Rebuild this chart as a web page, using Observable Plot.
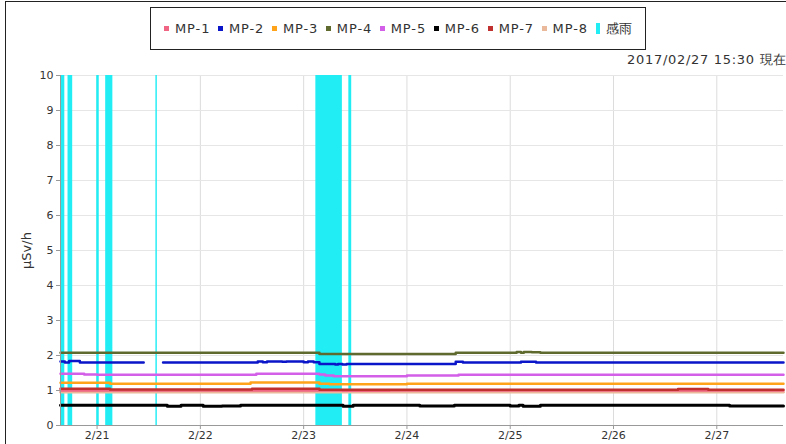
<!DOCTYPE html>
<html><head><meta charset="utf-8">
<script src="https://cdn.jsdelivr.net/npm/d3@7"></script>
<script src="https://cdn.jsdelivr.net/npm/@observablehq/plot@0.6"></script>
<style>
body{margin:0;background:#fff;font-family:"DejaVu Sans",sans-serif}
#wrap{position:relative;width:786px;height:444px;overflow:hidden;background:#fff}
#frame{position:absolute;left:5px;top:1px;right:-2px;bottom:-2px;border-left:1px solid #222;border-top:1px solid #222;pointer-events:none}
#legend{position:absolute;left:150px;top:7px;width:496px;height:43px;border:1.5px solid #222;display:flex;align-items:center;padding-left:13px;box-sizing:border-box;font-size:13px;letter-spacing:0.9px;color:#333}
#legend .it{display:flex;align-items:center;margin-right:7.6px}
#legend .mk{width:5px;height:5px;margin-right:6px}
#stamp{position:absolute;right:-1px;top:51px;font-size:13px;letter-spacing:0.7px;color:#333}
#chart{position:absolute;left:0;top:0}
</style></head>
<body><div id="wrap"><div id="chart"></div><div id="frame"></div><div id="legend"></div><div id="stamp"></div></div>
<script>
const T = s => d3.utcParse("%Y-%m-%d %H:%M")("2017-02-" + s);

const seriesNames = ["MP-1","MP-2","MP-3","MP-4","MP-5","MP-6","MP-7","MP-8"];
const seriesColors = ["#f06484","#0a14c8","#ffa31a","#5f6a2f","#d35ee8","#000000","#c0302e","#eab89a"];
const rainName = "感雨";
const rainColor = "#20eef4";
const stampText = "2017/02/27 15:30 現在";
const yLabel = "μSv/h";
const yTicks = [0,1,2,3,4,5,6,7,8,9,10];
const xTickDays = ["21 00:00","22 00:00","23 00:00","24 00:00","25 00:00","26 00:00","27 00:00"];
const xDomain = ["20 15:30","27 15:30"];

// step breakpoints [time, value]
const mp1 = [["20 15:30",1.00],["23 09:00",0.99],["23 20:00",1.00],["27 15:30",1.00]];
const mp2 = [["20 15:30",1.83],["20 16:30",1.80],["20 17:30",1.84],["20 20:00",1.80],["21 10:50",1.80],["21 10:51",null],
  ["21 15:20",1.80],["22 13:20",1.83],["22 14:30",1.81],["22 15:30",1.83],["22 19:00",1.82],["22 20:00",1.83],
  ["23 00:00",1.81],["23 01:00",1.83],["23 02:20",1.81],["23 03:40",1.76],["23 07:20",1.74],["23 08:00",1.76],
  ["23 09:00",1.74],["23 10:00",1.76],["24 11:20",1.82],["24 13:00",1.80],["25 02:30",1.82],["25 06:00",1.80],["27 15:30",1.80]];
const mp3 = [["20 15:30",1.22],["21 03:00",1.19],["22 11:40",1.23],["23 03:40",1.19],["23 06:00",1.18],["24 00:00",1.19],["27 15:30",1.19]];
const mp4 = [["20 15:30",2.08],["23 03:40",2.04],["24 11:20",2.08],["25 01:30",2.10],["25 02:30",2.08],["25 03:10",2.10],["25 05:00",2.09],["25 07:00",2.08],["27 15:30",2.08]];
const mp5 = [["20 15:30",1.48],["20 21:00",1.46],["21 00:00",1.45],["22 13:00",1.48],["23 03:40",1.46],["23 05:00",1.43],["23 07:00",1.41],["24 00:00",1.43],["24 12:00",1.45],["27 15:30",1.45]];
const mp6 = [["20 15:30",0.58],["21 16:20",0.55],["21 19:30",0.58],["22 00:40",0.55],["22 05:00",0.56],["22 09:20",0.58],
  ["23 09:10",0.55],["23 11:30",0.58],["24 03:00",0.56],["24 11:00",0.58],["25 00:00",0.56],["25 02:00",0.58],
  ["25 03:00",0.55],["25 07:00",0.58],["27 03:00",0.56],["27 15:30",0.56]];
const mp7 = [["20 15:30",1.05],["21 03:00",1.03],["22 12:00",1.05],["23 03:40",1.02],["26 15:00",1.04],["26 22:00",1.02],["27 15:30",1.02]];
const mp8 = [["20 15:30",0.95],["27 15:30",0.95]];

const rainStart = ["20 15:30","20 17:15","20 23:55","21 02:00","21 13:40","23 02:50","23 10:30"];
const rainEnd   = ["20 16:30","20 18:20","21 00:30","21 03:40","21 14:00","23 09:00","23 11:10"];

const seriesData = {"MP-1":mp1,"MP-2":mp2,"MP-3":mp3,"MP-4":mp4,"MP-5":mp5,"MP-6":mp6,"MP-7":mp7,"MP-8":mp8};
const drawOrder = ["MP-8","MP-1","MP-7","MP-3","MP-5","MP-2","MP-4","MP-6"];
const rows = drawOrder.flatMap(name => seriesData[name].map(([t,v]) => ({series:name, t:T(t), v})));
const rain = rainStart.map((s,i) => ({start:T(s), end:T(rainEnd[i])}));

const chart = Plot.plot({
  width: 786, height: 444,
  marginLeft: 60, marginRight: 3, marginTop: 75, marginBottom: 19,
  style: {fontFamily: "DejaVu Sans", fontSize: "11px", background: "transparent", color: "#333"},
  x: {type: "utc", domain: xDomain.map(T)},
  y: {domain: [0, 10]},
  color: {domain: seriesNames, range: seriesColors},
  marks: [
    Plot.gridX(xTickDays.map(T), {stroke: "#dcdcdc", strokeOpacity: 1}),
    Plot.gridY(yTicks, {stroke: "#e6e6e6", strokeOpacity: 1}),
    Plot.rect(rain, {x1: "start", x2: "end", fill: rainColor}),
    Plot.line(rows, {x: "t", y: "v", z: "series", stroke: "series", curve: "step-after",
      strokeWidth: d => d.series === "MP-6" ? 3 : 2.5}),
    Plot.ruleX([T(xDomain[0])], {stroke: "#999"}),
    Plot.ruleY([0], {stroke: "#999"}),
    Plot.axisY(yTicks, {tickSize: 4, tickPadding: 3, label: null, fontSize: 11, stroke: "#999"}),
    Plot.text([yLabel], {frameAnchor: "left", textAnchor: "middle", lineAnchor: "middle", dx: -34, rotate: -90, fontSize: 13, fill: "#333"}),
    Plot.axisX(xTickDays.map(T), {tickSize: 4, tickPadding: 2, tickFormat: d3.utcFormat("%-m/%-d"), label: null, fontSize: 11, stroke: "#999"})
  ]
});
document.getElementById("chart").appendChild(chart);

const lg = document.getElementById("legend");
seriesNames.concat([rainName]).forEach((name, i) => {
  const it = document.createElement("div"); it.className = "it";
  const mk = document.createElement("div"); mk.className = "mk";
  mk.style.background = i < seriesNames.length ? seriesColors[i] : rainColor;
  if (i >= seriesNames.length) { mk.style.width = "4px"; mk.style.height = "11px"; }
  const tx = document.createElement("span"); tx.textContent = name;
  it.appendChild(mk); it.appendChild(tx); lg.appendChild(it);
});
document.getElementById("stamp").textContent = stampText;
</script></body></html>
